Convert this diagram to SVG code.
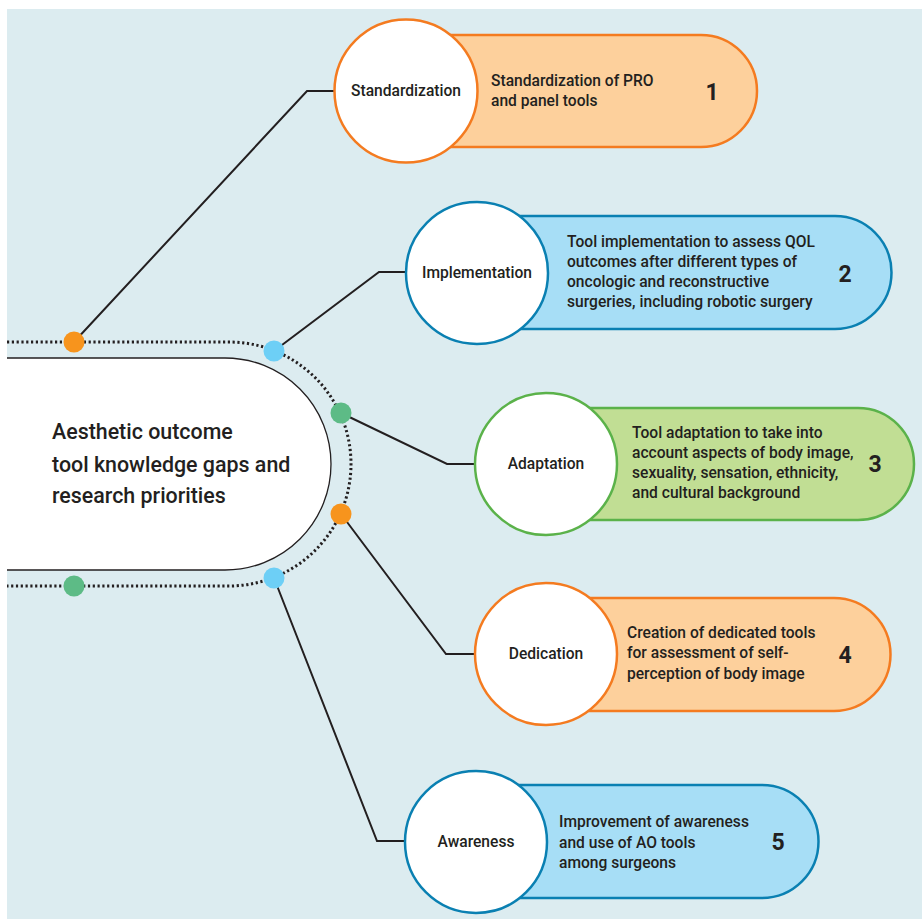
<svg xmlns="http://www.w3.org/2000/svg" width="922" height="919" viewBox="0 0 922 919">
<style>
text{font-family:Roboto,"Liberation Sans",Arial,sans-serif;fill:#231f20;font-weight:500}
.desc{font-size:15.6px}
.lbl{font-size:15.6px;text-anchor:middle}
.num{font-size:23px;font-weight:700;text-anchor:middle}
.title{font-size:21.4px}
.conn{fill:none;stroke:#231f20;stroke-width:2}
.circ{fill:#fff;stroke-width:2.5}
.pill{stroke-width:2.5}
.or .pill{fill:#fdd09c;stroke:#f47b20}
.or .circ{stroke:#f47b20}
.bl .pill{fill:#a7def6;stroke:#0a80b2}
.bl .circ{stroke:#0a80b2}
.gr .pill{fill:#c1de94;stroke:#5bb24a}
.gr .circ{stroke:#5bb24a}
</style>
<rect x="7" y="9" width="915" height="910" fill="#dcecf0"/>
<g id="center">
<path d="M7 358 H225 A106 106 0 0 1 225 570 H7 Z" fill="#fff"/>
<path d="M7 358 H225 A106 106 0 0 1 225 570 H7" fill="none" stroke="#231f20" stroke-width="1.3"/>
<text class="title" x="52" y="439">Aesthetic outcome</text>
<text class="title" x="52" y="472">tool knowledge gaps and</text>
<text class="title" x="52" y="503">research priorities</text>
</g>
<g id="track">
<path d="M7 342 H229 A122 122 0 0 1 229 586 H7" fill="none" stroke="#231f20" stroke-width="3" stroke-dasharray="2.2 2.6"/>
</g>
<g id="connectors">
<polyline class="conn" points="74,342 307,91 336,91"/>
<polyline class="conn" points="274,351 379,272 408,272"/>
<polyline class="conn" points="341,413 447,464 477,464"/>
<polyline class="conn" points="341,514 446,654 475,654"/>
<polyline class="conn" points="274,578 377,841 406,841"/>
</g>
<g id="dots">
<circle cx="74" cy="342" r="10.5" fill="#f7941d"/>
<circle cx="274" cy="351" r="10.5" fill="#6dcff6"/>
<circle cx="341" cy="413" r="10.5" fill="#5dbb86"/>
<circle cx="341" cy="514" r="10.5" fill="#f7941d"/>
<circle cx="274" cy="578" r="10.5" fill="#6dcff6"/>
<circle cx="74" cy="586" r="10.5" fill="#5dbb86"/>
</g>
<g id="node1" class="or">
<path class="pill" d="M406 35 H701 A56 56 0 0 1 701 147 H406 Z"/>
<circle class="circ" cx="406" cy="91" r="71.5"/>
<text class="lbl" x="406" y="96">Standardization</text>
<text class="desc" x="491" y="86">Standardization of PRO</text>
<text class="desc" x="491" y="106">and panel tools</text>
<text class="num" x="712" y="100">1</text>
</g>
<g id="node2" class="bl">
<path class="pill" d="M477 216 H835 A56.5 56.5 0 0 1 835 329 H477 Z"/>
<circle class="circ" cx="477" cy="273" r="71"/>
<text class="lbl" x="477" y="278">Implementation</text>
<text class="desc" x="567" y="247">Tool implementation to assess QOL</text>
<text class="desc" x="567" y="267">outcomes after different types of</text>
<text class="desc" x="567" y="287">oncologic and reconstructive</text>
<text class="desc" x="567" y="307">surgeries, including robotic surgery</text>
<text class="num" x="845" y="282">2</text>
</g>
<g id="node3" class="gr">
<path class="pill" d="M546 408 H858 A56 56 0 0 1 858 520 H546 Z"/>
<circle class="circ" cx="546" cy="464" r="71"/>
<text class="lbl" x="546" y="469">Adaptation</text>
<text class="desc" x="632" y="438">Tool adaptation to take into</text>
<text class="desc" x="632" y="458">account aspects of body image,</text>
<text class="desc" x="632" y="478">sexuality, sensation, ethnicity,</text>
<text class="desc" x="632" y="498">and cultural background</text>
<text class="num" x="875" y="472">3</text>
</g>
<g id="node4" class="or">
<path class="pill" d="M546 598 H834 A56.5 56.5 0 0 1 834 711 H546 Z"/>
<circle class="circ" cx="546" cy="654" r="71"/>
<text class="lbl" x="546" y="659">Dedication</text>
<text class="desc" x="627" y="638">Creation of dedicated tools</text>
<text class="desc" x="627" y="658">for assessment of self-</text>
<text class="desc" x="627" y="679">perception of body image</text>
<text class="num" x="845" y="663">4</text>
</g>
<g id="node5" class="bl">
<path class="pill" d="M476 785 H762 A56.5 56.5 0 0 1 762 898 H476 Z"/>
<circle class="circ" cx="476" cy="842" r="71"/>
<text class="lbl" x="476" y="847">Awareness</text>
<text class="desc" x="559" y="827">Improvement of awareness</text>
<text class="desc" x="559" y="848">and use of AO tools</text>
<text class="desc" x="559" y="868">among surgeons</text>
<text class="num" x="778" y="850">5</text>
</g>
</svg>
